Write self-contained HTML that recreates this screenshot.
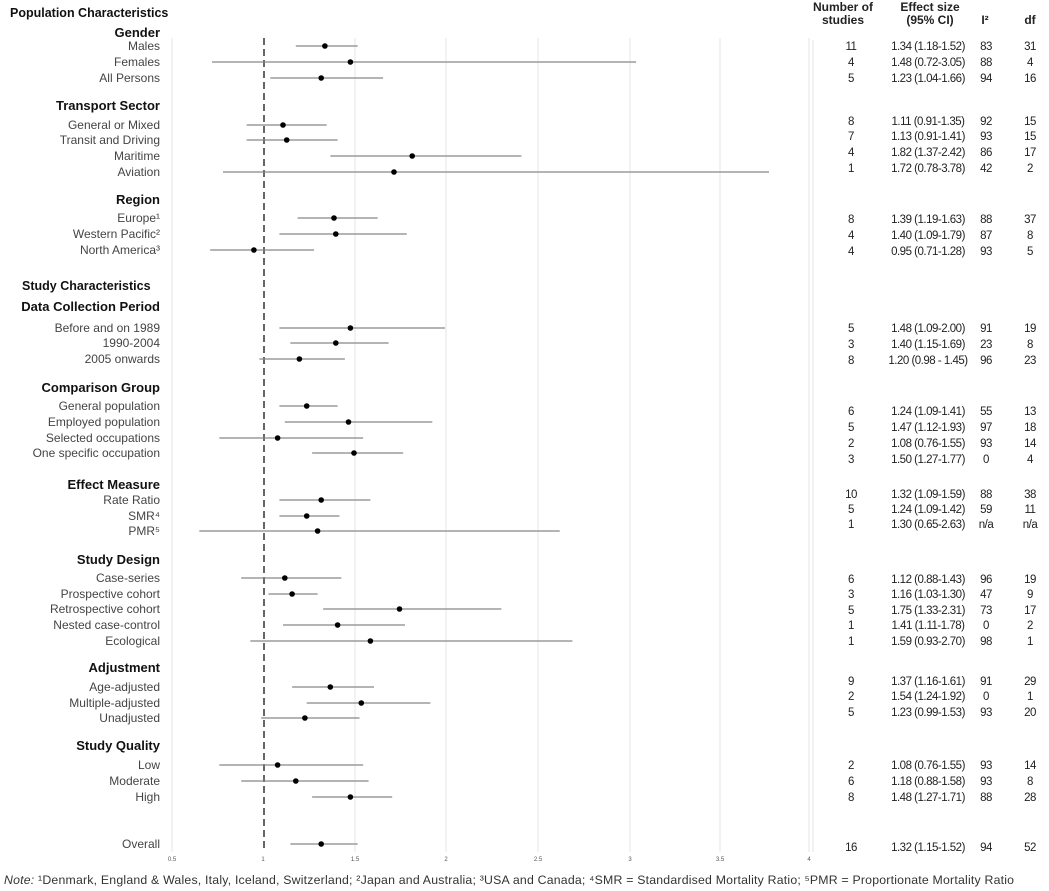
<!DOCTYPE html>
<html><head><meta charset="utf-8"><style>
html,body{margin:0;padding:0;background:#fff}
svg{display:block}
.lab{font-family:"Liberation Sans",sans-serif;font-size:12px;fill:#444;text-anchor:end}
.hd{font-family:"Liberation Sans",sans-serif;font-size:13px;font-weight:bold;fill:#111;text-anchor:end}
.tb{font-family:"Liberation Sans",sans-serif;font-size:11.5px;fill:#222;text-anchor:middle;letter-spacing:-0.5px}
.th{font-family:"Liberation Sans",sans-serif;font-size:12px;font-weight:bold;fill:#222;text-anchor:middle}
.tk{font-family:"Liberation Sans",sans-serif;font-size:6px;fill:#555;text-anchor:middle}
.ci{stroke:#888;stroke-width:1.3}
</style></head><body>
<svg width="1049" height="891" viewBox="0 0 1049 891" xmlns="http://www.w3.org/2000/svg">
<g stroke="#e6e6e6" stroke-width="1">
<line x1="172" y1="38" x2="172" y2="852"/>
<line x1="355" y1="38" x2="355" y2="852"/>
<line x1="446" y1="38" x2="446" y2="852"/>
<line x1="538" y1="38" x2="538" y2="852"/>
<line x1="630" y1="38" x2="630" y2="852"/>
<line x1="720" y1="38" x2="720" y2="852"/>
<line x1="809" y1="38" x2="809" y2="852"/>
<line x1="813" y1="40" x2="813" y2="852"/>
</g>
<line x1="264" y1="38" x2="264" y2="852" stroke="#333" stroke-width="1.5" stroke-dasharray="7,4"/>
<g class="tk">
<text x="172" y="861">0.5</text><text x="263" y="861">1</text><text x="355" y="861">1.5</text><text x="446" y="861">2</text><text x="538" y="861">2.5</text><text x="630" y="861">3</text><text x="720" y="861">3.5</text><text x="809" y="861">4</text>
</g>
<g class="ci">
<line x1="295.8" x2="357.6" y1="46" y2="46"/>
<line x1="212" x2="636.1" y1="62" y2="62"/>
<line x1="270.3" x2="383.1" y1="78" y2="78"/>
<line x1="246.6" x2="326.7" y1="125" y2="125"/>
<line x1="246.6" x2="337.6" y1="140" y2="140"/>
<line x1="330.3" x2="521.4" y1="156" y2="156"/>
<line x1="223" x2="769" y1="172" y2="172"/>
<line x1="297.6" x2="377.7" y1="218" y2="218"/>
<line x1="279.4" x2="406.8" y1="234" y2="234"/>
<line x1="210.2" x2="314" y1="250" y2="250"/>
<line x1="279.4" x2="445" y1="328" y2="328"/>
<line x1="290.3" x2="388.6" y1="343" y2="343"/>
<line x1="259.4" x2="344.9" y1="359" y2="359"/>
<line x1="279.4" x2="337.6" y1="406" y2="406"/>
<line x1="284.8" x2="432.3" y1="422" y2="422"/>
<line x1="219.3" x2="363.1" y1="438" y2="438"/>
<line x1="312.1" x2="403.1" y1="453" y2="453"/>
<line x1="279.4" x2="370.4" y1="500" y2="500"/>
<line x1="279.4" x2="339.4" y1="516" y2="516"/>
<line x1="199.3" x2="559.7" y1="531" y2="531"/>
<line x1="241.2" x2="341.3" y1="578" y2="578"/>
<line x1="268.5" x2="317.6" y1="594" y2="594"/>
<line x1="323.1" x2="501.4" y1="609" y2="609"/>
<line x1="283" x2="405" y1="625" y2="625"/>
<line x1="250.3" x2="572.4" y1="641" y2="641"/>
<line x1="292.1" x2="374" y1="687" y2="687"/>
<line x1="306.7" x2="430.4" y1="703" y2="703"/>
<line x1="261.2" x2="359.5" y1="718" y2="718"/>
<line x1="219.3" x2="363.1" y1="765" y2="765"/>
<line x1="241.2" x2="368.6" y1="781" y2="781"/>
<line x1="312.1" x2="392.2" y1="797" y2="797"/>
<line x1="290.3" x2="357.6" y1="844" y2="844"/>
</g>
<g fill="#000">
<circle cx="324.9" cy="46" r="2.8"/><circle cx="350.4" cy="62" r="2.8"/><circle cx="321.2" cy="78" r="2.8"/>
<circle cx="283" cy="125" r="2.8"/><circle cx="286.7" cy="140" r="2.8"/><circle cx="412.2" cy="156" r="2.8"/><circle cx="394" cy="172" r="2.8"/>
<circle cx="334" cy="218" r="2.8"/><circle cx="335.8" cy="234" r="2.8"/><circle cx="253.9" cy="250" r="2.8"/>
<circle cx="350.4" cy="328" r="2.8"/><circle cx="335.8" cy="343" r="2.8"/><circle cx="299.4" cy="359" r="2.8"/>
<circle cx="306.7" cy="406" r="2.8"/><circle cx="348.5" cy="422" r="2.8"/><circle cx="277.6" cy="438" r="2.8"/><circle cx="354" cy="453" r="2.8"/>
<circle cx="321.2" cy="500" r="2.8"/><circle cx="306.7" cy="516" r="2.8"/><circle cx="317.6" cy="531" r="2.8"/>
<circle cx="284.8" cy="578" r="2.8"/><circle cx="292.1" cy="594" r="2.8"/><circle cx="399.5" cy="609" r="2.8"/><circle cx="337.6" cy="625" r="2.8"/><circle cx="370.4" cy="641" r="2.8"/>
<circle cx="330.3" cy="687" r="2.8"/><circle cx="361.3" cy="703" r="2.8"/><circle cx="304.9" cy="718" r="2.8"/>
<circle cx="277.6" cy="765" r="2.8"/><circle cx="295.8" cy="781" r="2.8"/><circle cx="350.4" cy="797" r="2.8"/>
<circle cx="321.2" cy="844" r="2.8"/>
</g>
<text x="10" y="17" class="hd" style="text-anchor:start;font-size:12.5px">Population Characteristics</text>
<text x="160" y="37" class="hd">Gender</text>
<text x="160" y="50" class="lab">Males</text>
<text x="160" y="66" class="lab">Females</text>
<text x="160" y="82" class="lab">All Persons</text>
<text x="160" y="110" class="hd">Transport Sector</text>
<text x="160" y="129" class="lab">General or Mixed</text>
<text x="160" y="144" class="lab">Transit and Driving</text>
<text x="160" y="160" class="lab">Maritime</text>
<text x="160" y="176" class="lab">Aviation</text>
<text x="160" y="204" class="hd">Region</text>
<text x="160" y="222" class="lab">Europe¹</text>
<text x="160" y="238" class="lab">Western Pacific²</text>
<text x="160" y="254" class="lab">North America³</text>
<text x="22" y="290" class="hd" style="text-anchor:start;font-size:12.5px">Study Characteristics</text>
<text x="160" y="311" class="hd">Data Collection Period</text>
<text x="160" y="332" class="lab">Before and on 1989</text>
<text x="160" y="347" class="lab">1990-2004</text>
<text x="160" y="363" class="lab">2005 onwards</text>
<text x="160" y="392" class="hd">Comparison Group</text>
<text x="160" y="410" class="lab">General population</text>
<text x="160" y="426" class="lab">Employed population</text>
<text x="160" y="442" class="lab">Selected occupations</text>
<text x="160" y="457" class="lab">One specific occupation</text>
<text x="160" y="489" class="hd">Effect Measure</text>
<text x="160" y="504" class="lab">Rate Ratio</text>
<text x="160" y="520" class="lab">SMR⁴</text>
<text x="160" y="535" class="lab">PMR⁵</text>
<text x="160" y="564" class="hd">Study Design</text>
<text x="160" y="582" class="lab">Case-series</text>
<text x="160" y="598" class="lab">Prospective cohort</text>
<text x="160" y="613" class="lab">Retrospective cohort</text>
<text x="160" y="629" class="lab">Nested case-control</text>
<text x="160" y="645" class="lab">Ecological</text>
<text x="160" y="672" class="hd">Adjustment</text>
<text x="160" y="691" class="lab">Age-adjusted</text>
<text x="160" y="707" class="lab">Multiple-adjusted</text>
<text x="160" y="722" class="lab">Unadjusted</text>
<text x="160" y="750" class="hd">Study Quality</text>
<text x="160" y="769" class="lab">Low</text>
<text x="160" y="785" class="lab">Moderate</text>
<text x="160" y="801" class="lab">High</text>
<text x="160" y="848" class="lab">Overall</text>
<text x="843" y="11" class="th">Number of</text>
<text x="843" y="24" class="th">studies</text>
<text x="930" y="11" class="th">Effect size</text>
<text x="930" y="24" class="th">(95% CI)</text>
<text x="985" y="24" class="th">I²</text>
<text x="1030" y="24" class="th">df</text>
<g class="tb">
<text x="851" y="50">11</text><text x="928" y="50">1.34 (1.18-1.52)</text><text x="986" y="50">83</text><text x="1030" y="50">31</text>
<text x="851" y="66">4</text><text x="928" y="66">1.48 (0.72-3.05)</text><text x="986" y="66">88</text><text x="1030" y="66">4</text>
<text x="851" y="82">5</text><text x="928" y="82">1.23 (1.04-1.66)</text><text x="986" y="82">94</text><text x="1030" y="82">16</text>
<text x="851" y="125">8</text><text x="928" y="125">1.11 (0.91-1.35)</text><text x="986" y="125">92</text><text x="1030" y="125">15</text>
<text x="851" y="140">7</text><text x="928" y="140">1.13 (0.91-1.41)</text><text x="986" y="140">93</text><text x="1030" y="140">15</text>
<text x="851" y="156">4</text><text x="928" y="156">1.82 (1.37-2.42)</text><text x="986" y="156">86</text><text x="1030" y="156">17</text>
<text x="851" y="172">1</text><text x="928" y="172">1.72 (0.78-3.78)</text><text x="986" y="172">42</text><text x="1030" y="172">2</text>
<text x="851" y="223">8</text><text x="928" y="223">1.39 (1.19-1.63)</text><text x="986" y="223">88</text><text x="1030" y="223">37</text>
<text x="851" y="239">4</text><text x="928" y="239">1.40 (1.09-1.79)</text><text x="986" y="239">87</text><text x="1030" y="239">8</text>
<text x="851" y="255">4</text><text x="928" y="255">0.95 (0.71-1.28)</text><text x="986" y="255">93</text><text x="1030" y="255">5</text>
<text x="851" y="332">5</text><text x="928" y="332">1.48 (1.09-2.00)</text><text x="986" y="332">91</text><text x="1030" y="332">19</text>
<text x="851" y="348">3</text><text x="928" y="348">1.40 (1.15-1.69)</text><text x="986" y="348">23</text><text x="1030" y="348">8</text>
<text x="851" y="364">8</text><text x="928" y="364">1.20 (0.98 - 1.45)</text><text x="986" y="364">96</text><text x="1030" y="364">23</text>
<text x="851" y="415">6</text><text x="928" y="415">1.24 (1.09-1.41)</text><text x="986" y="415">55</text><text x="1030" y="415">13</text>
<text x="851" y="431">5</text><text x="928" y="431">1.47 (1.12-1.93)</text><text x="986" y="431">97</text><text x="1030" y="431">18</text>
<text x="851" y="447">2</text><text x="928" y="447">1.08 (0.76-1.55)</text><text x="986" y="447">93</text><text x="1030" y="447">14</text>
<text x="851" y="463">3</text><text x="928" y="463">1.50 (1.27-1.77)</text><text x="986" y="463">0</text><text x="1030" y="463">4</text>
<text x="851" y="498">10</text><text x="928" y="498">1.32 (1.09-1.59)</text><text x="986" y="498">88</text><text x="1030" y="498">38</text>
<text x="851" y="513">5</text><text x="928" y="513">1.24 (1.09-1.42)</text><text x="986" y="513">59</text><text x="1030" y="513">11</text>
<text x="851" y="528">1</text><text x="928" y="528">1.30 (0.65-2.63)</text><text x="986" y="528">n/a</text><text x="1030" y="528">n/a</text>
<text x="851" y="583">6</text><text x="928" y="583">1.12 (0.88-1.43)</text><text x="986" y="583">96</text><text x="1030" y="583">19</text>
<text x="851" y="598">3</text><text x="928" y="598">1.16 (1.03-1.30)</text><text x="986" y="598">47</text><text x="1030" y="598">9</text>
<text x="851" y="614">5</text><text x="928" y="614">1.75 (1.33-2.31)</text><text x="986" y="614">73</text><text x="1030" y="614">17</text>
<text x="851" y="629">1</text><text x="928" y="629">1.41 (1.11-1.78)</text><text x="986" y="629">0</text><text x="1030" y="629">2</text>
<text x="851" y="645">1</text><text x="928" y="645">1.59 (0.93-2.70)</text><text x="986" y="645">98</text><text x="1030" y="645">1</text>
<text x="851" y="685">9</text><text x="928" y="685">1.37 (1.16-1.61)</text><text x="986" y="685">91</text><text x="1030" y="685">29</text>
<text x="851" y="700">2</text><text x="928" y="700">1.54 (1.24-1.92)</text><text x="986" y="700">0</text><text x="1030" y="700">1</text>
<text x="851" y="716">5</text><text x="928" y="716">1.23 (0.99-1.53)</text><text x="986" y="716">93</text><text x="1030" y="716">20</text>
<text x="851" y="769">2</text><text x="928" y="769">1.08 (0.76-1.55)</text><text x="986" y="769">93</text><text x="1030" y="769">14</text>
<text x="851" y="785">6</text><text x="928" y="785">1.18 (0.88-1.58)</text><text x="986" y="785">93</text><text x="1030" y="785">8</text>
<text x="851" y="801">8</text><text x="928" y="801">1.48 (1.27-1.71)</text><text x="986" y="801">88</text><text x="1030" y="801">28</text>
<text x="851" y="851">16</text><text x="928" y="851">1.32 (1.15-1.52)</text><text x="986" y="851">94</text><text x="1030" y="851">52</text>
</g>
<text x="4" y="884" textLength="1010" lengthAdjust="spacing" style="font-family:'Liberation Sans',sans-serif;font-size:12.3px;fill:#333"><tspan font-style="italic">Note:</tspan> ¹Denmark, England &amp; Wales, Italy, Iceland, Switzerland; ²Japan and Australia; ³USA and Canada; ⁴SMR = Standardised Mortality Ratio; ⁵PMR = Proportionate Mortality Ratio</text>
</svg>
</body></html>
